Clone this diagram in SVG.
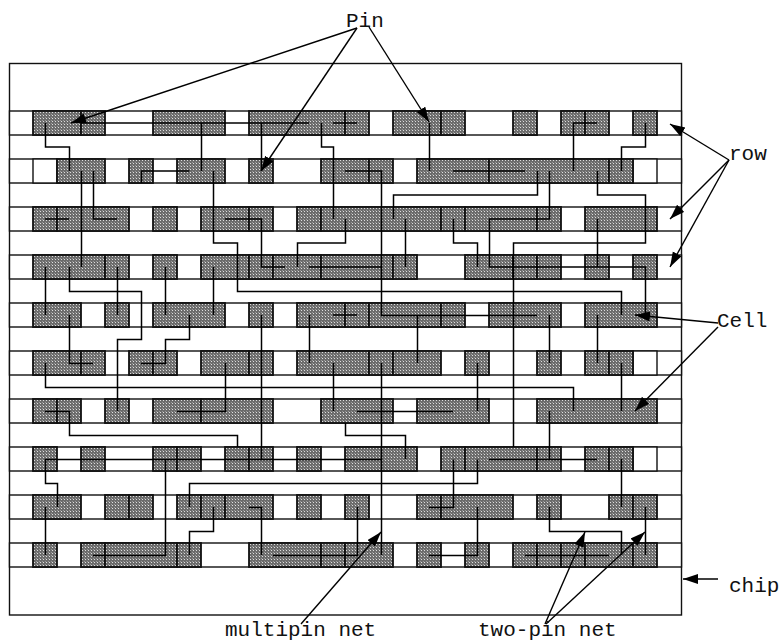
<svg xmlns="http://www.w3.org/2000/svg" width="780" height="642" viewBox="0 0 780 642">
<style>
.row{fill:#fff;stroke:#111;stroke-width:1.4}
.c{fill:url(#dots);stroke:#111;stroke-width:1.8}
.e{fill:#fff;stroke:#111;stroke-width:1.4}
.w{fill:none;stroke:#000;stroke-width:1.5}
.a{fill:none;stroke:#000;stroke-width:1.4;marker-end:url(#ah)}
text{font-family:"Liberation Mono","Courier New",monospace;font-size:21px;fill:#111}
</style>
<defs>
<pattern id="dots" width="3" height="3" patternUnits="userSpaceOnUse"><rect width="3" height="3" fill="#6c6c6c"/><rect x="1" y="1" width="1" height="1" fill="#ddd"/><rect width="1" height="1" fill="#999"/></pattern>
<marker id="ah" markerUnits="userSpaceOnUse" markerWidth="16" markerHeight="12" refX="15" refY="5" orient="auto"><path d="M0 0L15 5L0 10Z" fill="#000"/></marker>
</defs>
<rect id="chip" x="9.5" y="63.5" width="672" height="551.5" fill="#fff" stroke="#111" stroke-width="1.4"/>
<g id="row0"><rect class="row" x="9.5" y="111" width="672" height="24"/>
<rect class="c" x="33" y="111" width="48" height="24"/><rect class="c" x="81" y="111" width="24" height="24"/><rect class="c" x="153" y="111" width="72" height="24"/><rect class="c" x="249" y="111" width="96" height="24"/><rect class="c" x="345" y="111" width="24" height="24"/><rect class="c" x="393" y="111" width="48" height="24"/><rect class="c" x="441" y="111" width="24" height="24"/><rect class="c" x="513" y="111" width="24" height="24"/><rect class="c" x="561" y="111" width="24" height="24"/><rect class="c" x="585" y="111" width="24" height="24"/><rect class="c" x="633" y="111" width="24" height="24"/></g>
<g id="row1"><rect class="row" x="9.5" y="159" width="672" height="24"/>
<rect class="e" x="33" y="159" width="24" height="24"/><rect class="e" x="633" y="159" width="24" height="24"/>
<rect class="c" x="57" y="159" width="48" height="24"/><rect class="c" x="129" y="159" width="24" height="24"/><rect class="c" x="177" y="159" width="48" height="24"/><rect class="c" x="249" y="159" width="24" height="24"/><rect class="c" x="321" y="159" width="48" height="24"/><rect class="c" x="369" y="159" width="24" height="24"/><rect class="c" x="417" y="159" width="72" height="24"/><rect class="c" x="489" y="159" width="120" height="24"/><rect class="c" x="609" y="159" width="24" height="24"/></g>
<g id="row2"><rect class="row" x="9.5" y="207" width="672" height="24"/>
<rect class="c" x="33" y="207" width="24" height="24"/><rect class="c" x="57" y="207" width="72" height="24"/><rect class="c" x="153" y="207" width="24" height="24"/><rect class="c" x="201" y="207" width="48" height="24"/><rect class="c" x="249" y="207" width="24" height="24"/><rect class="c" x="297" y="207" width="24" height="24"/><rect class="c" x="321" y="207" width="120" height="24"/><rect class="c" x="441" y="207" width="24" height="24"/><rect class="c" x="465" y="207" width="72" height="24"/><rect class="c" x="537" y="207" width="24" height="24"/><rect class="c" x="585" y="207" width="72" height="24"/></g>
<g id="row3"><rect class="row" x="9.5" y="255" width="672" height="24"/>
<rect class="c" x="33" y="255" width="72" height="24"/><rect class="c" x="105" y="255" width="24" height="24"/><rect class="c" x="153" y="255" width="24" height="24"/><rect class="c" x="201" y="255" width="48" height="24"/><rect class="c" x="249" y="255" width="24" height="24"/><rect class="c" x="273" y="255" width="48" height="24"/><rect class="c" x="321" y="255" width="72" height="24"/><rect class="c" x="393" y="255" width="24" height="24"/><rect class="c" x="465" y="255" width="48" height="24"/><rect class="c" x="513" y="255" width="24" height="24"/><rect class="c" x="537" y="255" width="24" height="24"/><rect class="c" x="585" y="255" width="24" height="24"/><rect class="c" x="633" y="255" width="24" height="24"/></g>
<g id="row4"><rect class="row" x="9.5" y="303" width="672" height="24"/>
<rect class="c" x="33" y="303" width="48" height="24"/><rect class="c" x="105" y="303" width="24" height="24"/><rect class="c" x="153" y="303" width="72" height="24"/><rect class="c" x="249" y="303" width="24" height="24"/><rect class="c" x="297" y="303" width="48" height="24"/><rect class="c" x="345" y="303" width="24" height="24"/><rect class="c" x="369" y="303" width="72" height="24"/><rect class="c" x="441" y="303" width="24" height="24"/><rect class="c" x="489" y="303" width="72" height="24"/><rect class="c" x="585" y="303" width="72" height="24"/></g>
<g id="row5"><rect class="row" x="9.5" y="351" width="672" height="24"/>
<rect class="e" x="633" y="351" width="24" height="24"/>
<rect class="c" x="33" y="351" width="48" height="24"/><rect class="c" x="81" y="351" width="24" height="24"/><rect class="c" x="129" y="351" width="24" height="24"/><rect class="c" x="153" y="351" width="24" height="24"/><rect class="c" x="201" y="351" width="48" height="24"/><rect class="c" x="249" y="351" width="24" height="24"/><rect class="c" x="297" y="351" width="72" height="24"/><rect class="c" x="369" y="351" width="24" height="24"/><rect class="c" x="393" y="351" width="48" height="24"/><rect class="c" x="465" y="351" width="24" height="24"/><rect class="c" x="537" y="351" width="24" height="24"/><rect class="c" x="585" y="351" width="24" height="24"/><rect class="c" x="609" y="351" width="24" height="24"/></g>
<g id="row6"><rect class="row" x="9.5" y="399" width="672" height="24"/>
<rect class="c" x="33" y="399" width="24" height="24"/><rect class="c" x="57" y="399" width="24" height="24"/><rect class="c" x="105" y="399" width="24" height="24"/><rect class="c" x="153" y="399" width="48" height="24"/><rect class="c" x="201" y="399" width="72" height="24"/><rect class="c" x="321" y="399" width="72" height="24"/><rect class="c" x="417" y="399" width="72" height="24"/><rect class="c" x="537" y="399" width="120" height="24"/></g>
<g id="row7"><rect class="row" x="9.5" y="447" width="672" height="24"/>
<rect class="e" x="633" y="447" width="24" height="24"/>
<rect class="c" x="33" y="447" width="24" height="24"/><rect class="c" x="81" y="447" width="24" height="24"/><rect class="c" x="153" y="447" width="24" height="24"/><rect class="c" x="177" y="447" width="24" height="24"/><rect class="c" x="225" y="447" width="24" height="24"/><rect class="c" x="249" y="447" width="24" height="24"/><rect class="c" x="297" y="447" width="24" height="24"/><rect class="c" x="345" y="447" width="72" height="24"/><rect class="c" x="441" y="447" width="24" height="24"/><rect class="c" x="465" y="447" width="72" height="24"/><rect class="c" x="537" y="447" width="24" height="24"/><rect class="c" x="585" y="447" width="24" height="24"/><rect class="c" x="609" y="447" width="24" height="24"/></g>
<g id="row8"><rect class="row" x="9.5" y="495" width="672" height="24"/>
<rect class="c" x="33" y="495" width="48" height="24"/><rect class="c" x="105" y="495" width="24" height="24"/><rect class="c" x="129" y="495" width="24" height="24"/><rect class="c" x="177" y="495" width="24" height="24"/><rect class="c" x="201" y="495" width="24" height="24"/><rect class="c" x="225" y="495" width="48" height="24"/><rect class="c" x="297" y="495" width="24" height="24"/><rect class="c" x="345" y="495" width="24" height="24"/><rect class="c" x="417" y="495" width="24" height="24"/><rect class="c" x="441" y="495" width="72" height="24"/><rect class="c" x="537" y="495" width="24" height="24"/><rect class="c" x="609" y="495" width="24" height="24"/><rect class="c" x="633" y="495" width="24" height="24"/></g>
<g id="row9"><rect class="row" x="9.5" y="543" width="672" height="24"/>
<rect class="c" x="33" y="543" width="24" height="24"/><rect class="c" x="81" y="543" width="24" height="24"/><rect class="c" x="105" y="543" width="72" height="24"/><rect class="c" x="177" y="543" width="24" height="24"/><rect class="c" x="249" y="543" width="72" height="24"/><rect class="c" x="321" y="543" width="24" height="24"/><rect class="c" x="345" y="543" width="48" height="24"/><rect class="c" x="417" y="543" width="24" height="24"/><rect class="c" x="465" y="543" width="24" height="24"/><rect class="c" x="513" y="543" width="24" height="24"/><rect class="c" x="537" y="543" width="24" height="24"/><rect class="c" x="561" y="543" width="24" height="24"/><rect class="c" x="585" y="543" width="48" height="24"/><rect class="c" x="633" y="543" width="24" height="24"/></g>
<g id="connectors" class="w">
<path d="M45.5 123V147H69.5V171"/>
<path d="M141.5 183V171H189.5"/>
<path d="M201.5 123V171"/>
<path d="M81 123H309"/>
<path d="M81.5 171V267"/>
<path d="M93.5 171V219H117"/>
<path d="M45 219H69"/>
<path d="M213.5 171V243H237.5V291.5H621.5V315"/>
<path d="M261.5 123V171"/>
<path d="M321.5 123V147H333.5V219"/>
<path d="M225 219H261.5V267H285"/>
<path d="M297.5 267V243H345.5V219"/>
<path d="M333 123H357"/>
<path d="M345 171H381.5V315.5H537"/>
<path d="M309 267H381"/>
<path d="M429.5 123V171"/>
<path d="M453 171H525"/>
<path d="M537.5 171V195H393.5V219"/>
<path d="M549.5 171V219H489.5V267H645.5V315"/>
<path d="M573.5 171V123H597"/>
<path d="M621.5 171V147H645.5V123"/>
<path d="M597.5 171V195H645.5V243H513.5V447"/>
<path d="M405.5 219V267"/>
<path d="M453.5 219V243H477.5V267"/>
<path d="M597.5 219V267"/>
<path d="M45.5 267V315"/>
<path d="M69.5 267V291.5H141.5V339.5H117.5V411"/>
<path d="M117.5 267V315"/>
<path d="M165.5 267V315"/>
<path d="M213.5 267V315"/>
<path d="M69.5 315V363.5H93"/>
<path d="M189.5 315V339.5H165.5V363.5H141"/>
<path d="M261.5 315V459"/>
<path d="M309.5 315V363"/>
<path d="M333 315H357"/>
<path d="M45.5 363V387.5H573.5V411"/>
<path d="M225.5 363V411.5H177"/>
<path d="M333.5 363V411"/>
<path d="M45 411.5H69.5V435.5H237.5V447"/>
<path d="M417.5 315V363"/>
<path d="M549.5 315V363"/>
<path d="M597.5 315V363"/>
<path d="M381.5 363V555"/>
<path d="M477.5 363V411"/>
<path d="M621.5 363V411"/>
<path d="M357 411.5H453"/>
<path d="M345.5 423V435.5H405.5V459"/>
<path d="M549.5 411V459"/>
<path d="M381 459.5H45.5V483.5H57.5V507"/>
<path d="M165.5 459.5V555.5H93"/>
<path d="M489 459.5H597"/>
<path d="M453.5 459.5V507.5H429"/>
<path d="M477.5 459.5V483.5H189.5V507"/>
<path d="M621.5 459V507"/>
<path d="M45.5 507V555"/>
<path d="M213.5 507V531.5H189.5V555"/>
<path d="M249 507.5H261.5V555"/>
<path d="M273 555.5H357.5V507"/>
<path d="M477.5 507V555.5H429"/>
<path d="M549.5 507V531.5H621.5V555"/>
<path d="M645.5 507V555"/>
<path d="M525 555.5H609"/>
</g>
<g id="callouts">
<path class="a" d="M357 28L71 123"/>
<path class="a" d="M357 28L261 171"/>
<path class="a" d="M369 27L429 122"/>
<path class="a" d="M729 160L670 124"/>
<path class="a" d="M729 160L670 219"/>
<path class="a" d="M729 160L670 267"/>
<path class="a" d="M718 323L635 315"/>
<path class="a" d="M718 327L635 411"/>
<path class="a" d="M718 579L683 579"/>
<path class="a" d="M301 624L381 532"/>
<path class="a" d="M545 624L585 532"/>
<path class="a" d="M546 624L645 532"/>
</g>
<g id="labels">
<text x="346" y="27">Pin</text>
<text x="729" y="160">row</text>
<text x="717" y="327">Cell</text>
<text x="729" y="592">chip</text>
<text x="225" y="636">multipin net</text>
<text x="478" y="636">two-pin net</text>
</g>
</svg>
